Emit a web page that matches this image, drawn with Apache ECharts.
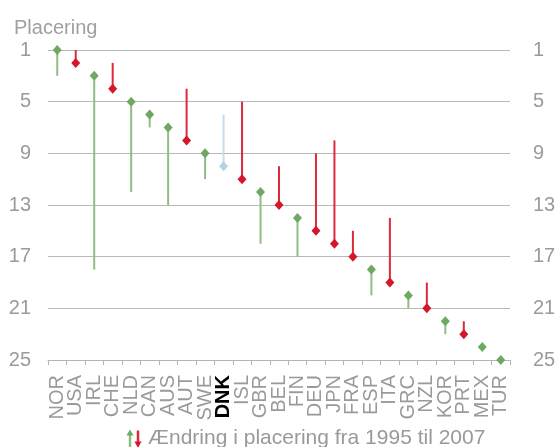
<!DOCTYPE html>
<html><head><meta charset="utf-8">
<script src="https://cdn.jsdelivr.net/npm/echarts@6/dist/echarts.min.js"></script>
<style>html,body{margin:0;padding:0;background:#fff}#c{width:560px;height:447px}</style>
</head><body><div id="c"></div>
<script>
const categories = ['NOR','USA','IRL','CHE','NLD','CAN','AUS','AUT','SWE','DNK','ISL','GBR','BEL','FIN','DEU','JPN','FRA','ESP','ITA','GRC','NZL','KOR','PRT','MEX','TUR'];
const rank2007 = [1,2,3,4,5,6,7,8,9,10,11,12,13,14,15,16,17,18,19,20,21,22,23,24,25];
const rank1995 = [3,1,18,2,12,7,13,4,11,6,5,16,10,17,9,8,15,20,14,21,19,23,22,24,25];
const yTicks = [1,5,9,13,17,21,25];
const highlight = 'DNK';
const legendName = 'Ændring i placering fra 1995 til 2007';

const GREEN_LINE = '#8fbe84', GREEN_MK = '#6fa862';
const RED_LINE = '#dc2a3c', RED_MK = '#d4182c';
const BLUE_LINE = '#c6dcea', BLUE_MK = '#b5d2e4';

function kind(i){
  if (categories[i] === highlight) return 'b';
  return rank1995[i] >= rank2007[i] ? 'g' : 'r';
}
const lineColor = i => ({g:GREEN_LINE, r:RED_LINE, b:BLUE_LINE})[kind(i)];
const mkColor = i => ({g:GREEN_MK, r:RED_MK, b:BLUE_MK})[kind(i)];

const svg = '<svg xmlns="http://www.w3.org/2000/svg" width="16" height="20">' +
  '<line x1="4" y1="5" x2="4" y2="19" stroke="' + GREEN_LINE + '" stroke-width="2.5"/>' +
  '<polygon points="0.5,7 4,1 7.5,7" fill="' + GREEN_MK + '"/>' +
  '<line x1="12" y1="2" x2="12" y2="14" stroke="' + RED_LINE + '" stroke-width="2.5"/>' +
  '<polygon points="8.5,13 12,19.5 15.5,13" fill="' + RED_MK + '"/></svg>';
const legendIcon = 'image://data:image/svg+xml;charset=utf-8,' + encodeURIComponent(svg);

const chart = echarts.init(document.getElementById('c'), null, {renderer:'canvas'});
const font = 'Liberation Sans, Arial, sans-serif';
const labelGray = '#9a9a9a';

const yCommon = {
  type:'value', inverse:true, min:yTicks[0], max:yTicks[yTicks.length-1], interval:4,
  axisTick:{show:false}, axisLine:{show:false}
};

chart.setOption({
  animation:false,
  textStyle:{fontFamily:font},
  title:{text:'Placering', left:9, top:13, textStyle:{fontSize:20, fontWeight:'normal', color:'#a0a0a0', fontFamily:font}},
  legend:{
    left:121, top:423, selectedMode:false, itemWidth:16, itemHeight:20, itemGap:8,
    data:[{name:legendName, icon:legendIcon}],
    textStyle:{fontSize:21, color:'#999999', fontFamily:font, padding:[0,0,0,1]}
  },
  grid:{left:48, right:50, top:50, bottom:87},
  xAxis:{
    type:'category', boundaryGap:true,
    data:categories.map(c => c === highlight ? {value:c, textStyle:{color:'#000', fontWeight:'bold'}} : c),
    axisLine:{show:true, lineStyle:{color:'#b4b4b4', width:1}},
    axisTick:{show:true, length:5, lineStyle:{color:'#b4b4b4'}},
    axisLabel:{rotate:90, margin:15, fontSize:20, color:labelGray, fontFamily:font, interval:0},
    splitLine:{show:false}
  },
  yAxis:[
    Object.assign({}, yCommon, {
      position:'left',
      axisLabel:{fontSize:20, color:labelGray, margin:17, fontFamily:font},
      splitLine:{show:true, lineStyle:{color:'#b8b8b8', width:1}}
    }),
    Object.assign({}, yCommon, {
      position:'right',
      axisLabel:{fontSize:20, color:labelGray, margin:23, fontFamily:font, align:'left'},
      splitLine:{show:false}
    })
  ],
  series:[
    {
      name:legendName, type:'custom', yAxisIndex:0,
      data:categories.map((c,i) => [i, rank1995[i], rank2007[i]]),
      encode:{x:0, y:[1,2]},
      renderItem:function(params, api){
        const i = api.value(0);
        const p1 = api.coord([i, api.value(1)]);
        const p2 = api.coord([i, api.value(2)]);
        if (api.value(1) === api.value(2)) return null;
        return {type:'line', shape:{x1:p1[0], y1:p1[1], x2:p2[0], y2:p2[1]},
          style:{stroke:lineColor(i), lineWidth:2}};
      },
      itemStyle:{color:GREEN_LINE}
    },
    {
      name:'2007', type:'scatter', yAxisIndex:0, symbol:'diamond', symbolSize:[9,10],
      data:categories.map((c,i) => [i, rank2007[i]]),
      itemStyle:{color:p => mkColor(p.dataIndex), opacity:1},
      z:5
    }
  ]
});
</script></body></html>
